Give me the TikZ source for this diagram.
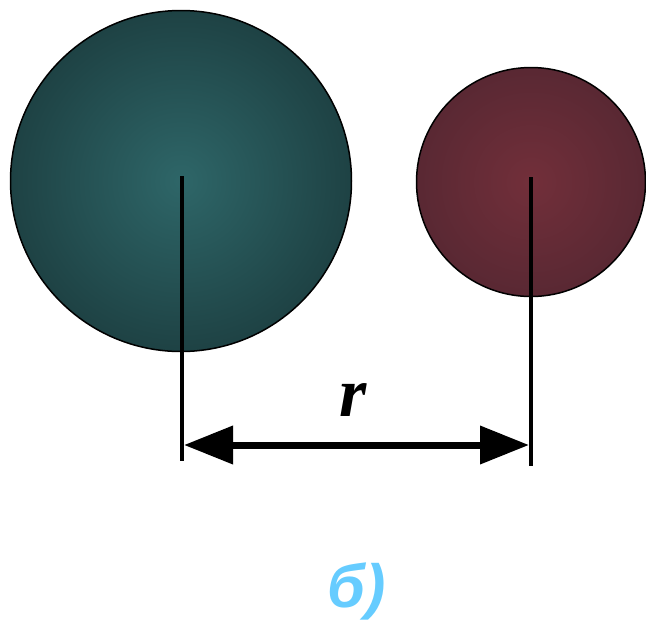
\documentclass[tikz,border=0pt]{standalone}
\usepackage{fontspec}
\setmainfont{Liberation Serif}
\newfontfamily\labelfont{Liberation Sans}
\definecolor{tealcore}{HTML}{2E6668}
\definecolor{tealrim}{HTML}{1E4244}
\definecolor{winecore}{HTML}{722F3A}
\definecolor{winerim}{HTML}{592833}
\definecolor{skylabel}{HTML}{66CCFF}
\usetikzlibrary{arrows.meta}

\begin{document}
\begin{tikzpicture}[
  x=1pt, y=-1pt,
  ion/.style={draw=black, line width=1.5pt, circle, inner sep=0pt, shading=radial},
  radius/.style={line width=4.5pt, color=black},
  dist/.style={{Triangle[length=49pt, width=37pt]}-{Triangle[length=49pt, width=37pt]}, line width=7pt},
]
  \useasboundingbox (0,0) rectangle (646,622);

  % Ions
  \node[ion, minimum size=341pt, inner color=tealcore, outer color=tealrim] (big) at (181,181) {};
  \node[ion, minimum size=229pt, inner color=winecore, outer color=winerim] (small) at (531,182) {};

  % Radii down to the baseline
  \coordinate (bigfoot) at (182,461);
  \coordinate (smallfoot) at (531,466);
  \draw[radius] ([yshift=5pt]big.center -| bigfoot) -- (bigfoot);
  \draw[radius] ([yshift=5pt]small.center) -- (smallfoot);

  % Distance
  \coordinate (left) at (184,445);
  \coordinate (right) at (529,445);
  \draw[dist] (left) -- (right);
  \node[font=\fontsize{70}{70}\selectfont\bfseries\itshape, anchor=base] (rlabel) at (353,416) {r};

  % Caption
  \node[font=\labelfont\fontsize{61}{61}\selectfont\bfseries\itshape, text=skylabel, anchor=base] (caption) at (357,607) {б)};
\end{tikzpicture}
\end{document}
